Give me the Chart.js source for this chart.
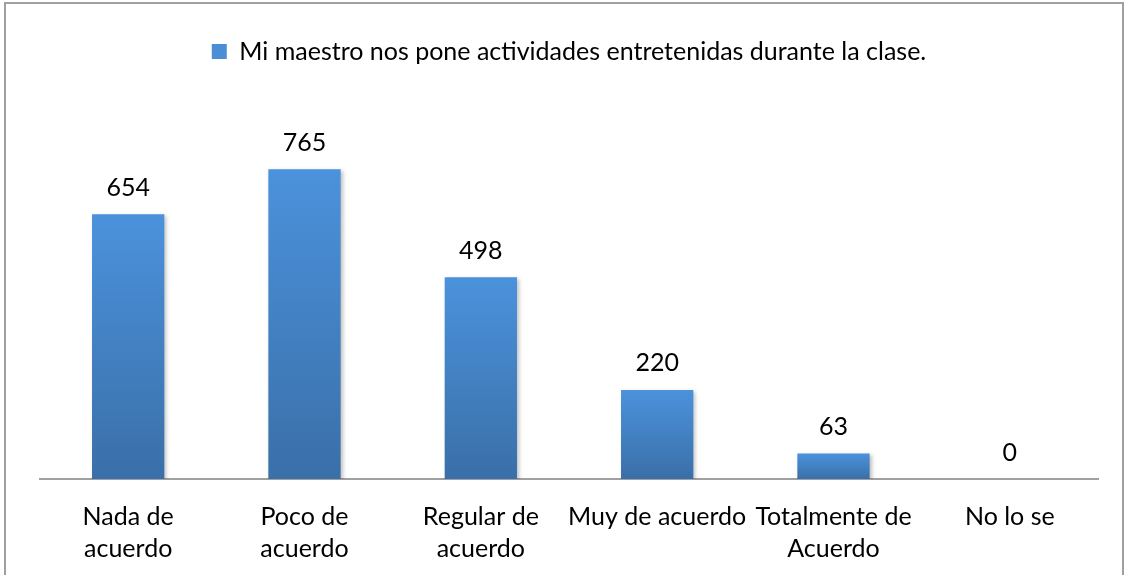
<!DOCTYPE html>
<html><head><meta charset="utf-8">
<script src="https://cdn.jsdelivr.net/npm/chart.js@4.4.0/dist/chart.umd.min.js"></script>
<style>
html,body{margin:0;padding:0;background:#fff;width:1128px;height:575px;overflow:hidden;}
#frame{position:absolute;left:4px;top:2px;width:1120px;height:600px;border:2px solid #a0a0a0;box-sizing:border-box;}
#wrap{position:absolute;left:0;top:0;width:1128px;height:575px;overflow:hidden;}
</style></head>
<body>
<div id="frame"></div>
<div id="wrap"><canvas id="c" width="1128" height="587"></canvas></div>
<script>
const categories = [["Nada de","acuerdo"],["Poco de","acuerdo"],["Regular de","acuerdo"],"Muy de acuerdo",["Totalmente de","Acuerdo"],"No lo se"];
const seriesName = "Mi maestro nos pone actividades entretenidas durante la clase.";
const values = [654, 765, 498, 220, 63, 0];

const FONT = "Lato, 'Open Sans', sans-serif";

function barGradient(ctx){
  const chart = ctx.chart;
  const ca = chart.chartArea;
  if(!ca) return '#4a8fd6';
  if(ctx.type !== 'data') return '#4a8fd6';
  const ys = chart.scales.y;
  const top = ys.getPixelForValue(ctx.parsed ? ctx.parsed.y : values[ctx.dataIndex]);
  const base = ys.getPixelForValue(0);
  if(!(base - top > 1)) return '#4a8fd6';
  const g = chart.ctx.createLinearGradient(0, top, 0, base);
  g.addColorStop(0, '#4b92dc');
  g.addColorStop(1, '#3a6fa8');
  return g;
}

const labelPlugin = {
  id:'vlabels',
  afterDatasetsDraw(chart){
    const ctx = chart.ctx;
    const meta = chart.getDatasetMeta(0);
    ctx.save();
    ctx.font = "25px " + FONT;
    ctx.fillStyle = '#000';
    ctx.textAlign = 'center';
    ctx.textBaseline = 'bottom';
    meta.data.forEach((el,i)=>{
      ctx.fillText(String(values[i]), el.x, el.y - 14);
    });
    ctx.restore();
  }
};

const shadowPlugin = {
  id:'shadow',
  beforeDatasetsDraw(chart){ chart.ctx.save(); chart.ctx.shadowColor='rgba(0,0,0,0.25)'; chart.ctx.shadowBlur=4; chart.ctx.shadowOffsetX=2; chart.ctx.shadowOffsetY=2; },
  afterDatasetsDraw(chart){ chart.ctx.restore(); }
};

new Chart(document.getElementById('c'), {
  type:'bar',
  data:{ labels:categories, datasets:[{ label:seriesName, data:values, backgroundColor:barGradient, borderWidth:0, categoryPercentage:1, barPercentage:0.41 }]},
  options:{
    responsive:false, animation:false, devicePixelRatio:1,
    layout:{ padding:{ left:40, right:30, top:31, bottom:0 } },
    plugins:{
      legend:{ display:true, position:'top',
        labels:{ boxWidth:15, boxHeight:15, color:'#000', font:{ family:FONT, size:25 }, padding:8,
          generateLabels(chart){ return [{ text:seriesName, fillStyle:'#4a8fd6', strokeStyle:'#4a8fd6', lineWidth:0, hidden:false, datasetIndex:0 }]; } } },
      tooltip:{ enabled:false }
    },
    scales:{
      x:{ grid:{ display:false, drawTicks:false }, border:{ display:true, color:'#a0a0a0', width:2 },
        ticks:{ color:'#000', font:{ family:FONT, size:25, lineHeight:1.28 }, padding:22, maxRotation:0, autoSkip:false } },
      y:{ display:false, min:0, max:1000 }
    }
  },
  plugins:[shadowPlugin, labelPlugin]
});
</script>
</body></html>
